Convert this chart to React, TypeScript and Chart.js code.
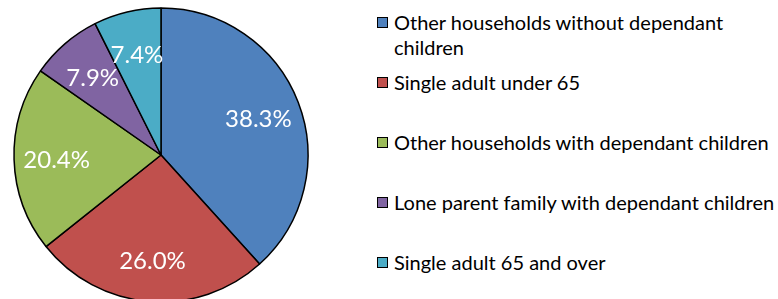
import React, { useEffect, useRef } from "react";
import { Chart, registerables } from "chart.js";

Chart.register(...registerables);

const categories = [
  "Other households without dependant children",
  "Single adult under 65",
  "Other households with dependant children",
  "Lone parent family with dependant children",
  "Single adult 65 and over",
];
const shares = [38.3, 26.0, 20.4, 7.9, 7.4];
const sliceColors = ["#4F81BD", "#C0504D", "#9BBB59", "#8064A2", "#4BACC6"];
const valueLabels = ["38.3%", "26.0%", "20.4%", "7.9%", "7.4%"];

const FONT = "Lato, 'Noto Sans', sans-serif";

const labelPlugin = {
  id: "sliceLabels",
  afterDatasetsDraw(chart: any) {
    const ctx = chart.ctx;
    const meta = chart.getDatasetMeta(0);
    ctx.save();
    ctx.fillStyle = "#FFFFFF";
    ctx.font = `24px ${FONT}`;
    ctx.textAlign = "center";
    ctx.textBaseline = "middle";
    meta.data.forEach((arc: any, i: number) => {
      const p = arc.getProps(["x", "y", "startAngle", "endAngle", "outerRadius"], true);
      const mid = (p.startAngle + p.endAngle) / 2;
      const r = p.outerRadius * 0.71;
      ctx.fillText(valueLabels[i], p.x + Math.cos(mid) * r, p.y + Math.sin(mid) * r + 2);
    });
    ctx.restore();
  },
};

export default function App() {
  const ref = useRef<HTMLCanvasElement | null>(null);
  useEffect(() => {
    if (!ref.current) return;
    const chart = new Chart(ref.current, {
      type: "pie",
      data: {
        labels: categories,
        datasets: [
          {
            data: shares,
            backgroundColor: sliceColors,
            borderColor: "#000000",
            borderWidth: 1.5,
          },
        ],
      },
      options: {
        animation: false,
        responsive: false,
        radius: 147,
        layout: { padding: 0 },
        plugins: {
          legend: { display: false },
          tooltip: { enabled: false },
        },
      } as any,
      plugins: [labelPlugin],
    });
    return () => chart.destroy();
  }, []);

  return (
    <div style={{ position: "absolute", left: 0, top: 0, width: 778, height: 310, background: "#fff", overflow: "hidden" }}>
      <canvas ref={ref} width={322} height={310} style={{ position: "absolute", left: 0, top: 0 }} />
      {categories.map((c, i) => (
        <div
          key={c}
          style={{
            position: "absolute",
            left: 377,
            top: 10 + 60 * i,
            width: 401,
            display: "flex",
            alignItems: "flex-start",
            fontFamily: FONT,
            fontSize: 20,
            lineHeight: "25px",
            color: "#000",
          }}
        >
          <span
            style={{
              display: "inline-block",
              width: 9,
              height: 9,
              marginTop: 7,
              border: "1.5px solid #000",
              background: sliceColors[i],
              flex: "none",
            }}
          />
          <span style={{ marginLeft: 6, width: 384 }}>{c}</span>
        </div>
      ))}
    </div>
  );
}
